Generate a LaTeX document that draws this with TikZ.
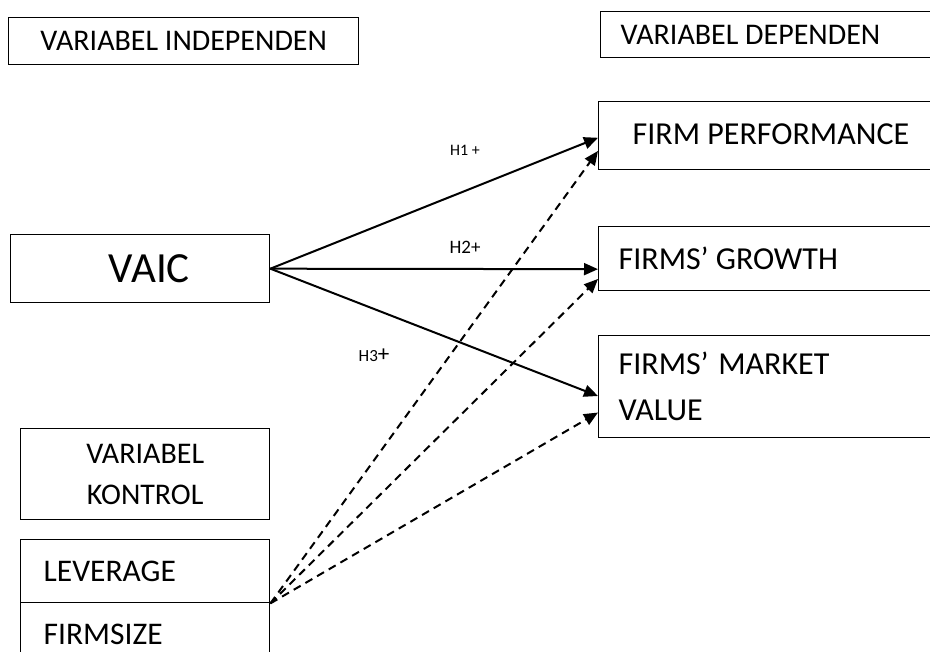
\documentclass[tikz,border=0pt]{standalone}
\usepackage{fontspec}
\setmainfont{Carlito}
\usetikzlibrary{arrows.meta,calc}
\begin{document}
\begin{tikzpicture}[x=1pt,y=-1pt,
 box/.style={draw,line width=1.4pt,inner ysep=0pt,anchor=north west},
 fl/.style={align=flush left},
 hl/.style={font=\fontsize{16}{18}\selectfont,inner sep=0pt},
 arr/.style={line width=2pt,-{Triangle[length=14pt,width=12pt]}},
 darr/.style={arr,dash pattern=on 8pt off 5.5pt}]
\useasboundingbox (0,0) rectangle (930,652);
% left column
\node[box,minimum width=350pt,minimum height=47pt,inner xsep=0pt,font=\fontsize{30}{34}\selectfont] (indep) at (8,17) {VARIABEL INDEPENDEN};
\node[box,fl,minimum height=68pt,inner xsep=98pt,text width=63pt,font=\fontsize{43}{46}\selectfont] (vaic) at (10,234) {VAIC};
\node[box,minimum width=249pt,minimum height=91pt,inner xsep=0pt,align=center,font=\fontsize{30}{41}\selectfont] (kontrol) at (20,428) {VARIABEL\\KONTROL};
\node[box,fl,minimum height=63pt,inner xsep=23pt,text width=203pt,font=\fontsize{31.5}{36}\selectfont] (lev) at (20,539) {LEVERAGE};
\node[box,fl,minimum height=63pt,inner xsep=23pt,text width=203pt,font=\fontsize{31.5}{36}\selectfont] (size) at (20,602) {FIRMSIZE};
% right column
\node[box,fl,minimum height=46pt,inner xsep=20pt,text width=297pt,font=\fontsize{30}{34}\selectfont] (dep) at (600,11) {VARIABEL DEPENDEN};
\node[box,fl,minimum height=68pt,inner xsep=34pt,text width=269pt,font=\fontsize{32}{36}\selectfont] (perf) at (598,101) {\raisebox{2.5pt}{FIRM PERFORMANCE}};
\node[box,fl,minimum height=64pt,inner xsep=20pt,text width=297pt,font=\fontsize{32}{36}\selectfont] (growth) at (598,226) {FIRMS’ GROWTH};
\node[box,fl,minimum height=102pt,inner xsep=20pt,text width=297pt,font=\fontsize{32}{46}\selectfont] (market) at (598,335) {FIRMS’\hspace{0.3em}MARKET\\VALUE};
% target points
\coordinate (p1) at ($(perf.north west)!0.53!(perf.south west)$);
\coordinate (p2) at ($(perf.north west)!0.72!(perf.south west)$);
\coordinate (g1) at ($(growth.north west)!0.66!(growth.south west)$);
\coordinate (g2) at ($(growth.north west)!0.81!(growth.south west)$);
\coordinate (m1) at ($(market.north west)!0.59!(market.south west)$);
\coordinate (m2) at ($(market.north west)!0.75!(market.south west)$);
% arrows
\draw[arr] (vaic.east) -- (p1);
\draw[arr] (vaic.east) -- (g1);
\draw[arr] (vaic.east) -- (m1);
\draw[darr] (lev.south east) -- (p2);
\draw[darr] (lev.south east) -- (g2);
\draw[darr] (lev.south east) -- (m2);
% labels
\node[hl] (h1) at (465,150) {H1 +};
\node[hl,font=\fontsize{19}{21}\selectfont] (h2) at (465,247) {H2+};
\node[hl,font=\fontsize{17}{19}\selectfont] (h3) at (374,355) {H3{\fontsize{23}{24}\selectfont +}};
\end{tikzpicture}
\end{document}
